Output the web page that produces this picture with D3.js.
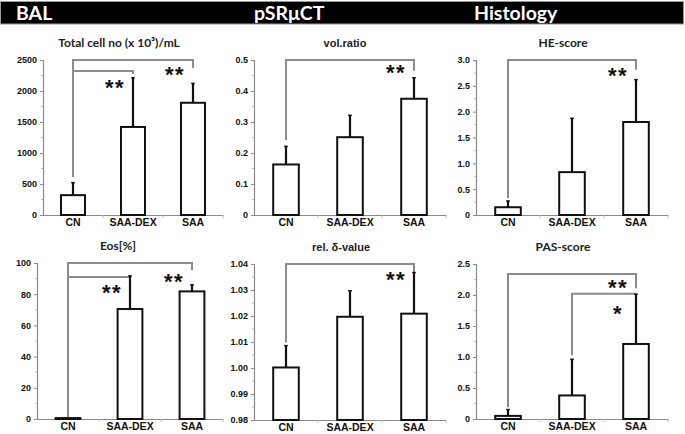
<!DOCTYPE html>
<html>
<head>
<meta charset="utf-8">
<script src="https://cdn.jsdelivr.net/npm/d3@7"></script>
<style>
  html, body { margin: 0; padding: 0; background: #fff; }
  svg { display: block; }
</style>
</head>
<body>
<svg id="chart" width="685" height="434"></svg>
<script>
// ---------------- DATA ----------------
const categories = ["CN", "SAA-DEX", "SAA"];
const sectionTitles = ["BAL", "pSRμCT", "Histology"];

const totalCellMean = [320, 1420, 1810];
const totalCellErr  = [210, 800, 320];
const totalCellTicks = [0, 500, 1000, 1500, 2000, 2500];
const totalCellTickLabels = ["0", "500", "1000", "1500", "2000", "2500"];

const volRatioMean = [0.163, 0.251, 0.375];
const volRatioErr  = [0.060, 0.072, 0.069];
const volRatioTicks = [0, 0.1, 0.2, 0.3, 0.4, 0.5];
const volRatioTickLabels = ["0", "0.1", "0.2", "0.3", "0.4", "0.5"];

const heMean = [0.15, 0.83, 1.80];
const heErr  = [0.13, 1.05, 0.83];
const heTicks = [0, 0.5, 1.0, 1.5, 2.0, 2.5, 3.0];
const heTickLabels = ["0", "0.5", "1.0", "1.5", "2.0", "2.5", "3.0"];

const eosMean = [0.6, 70.5, 81.8];
const eosErr  = [0, 21.5, 4.5];
const eosTicks = [0, 20, 40, 60, 80, 100];
const eosTickLabels = ["0", "20", "40", "60", "80", "100"];

const deltaMean = [1.0002, 1.0197, 1.0209];
const deltaErr  = [0.0086, 0.0102, 0.0160];
const deltaTicks = [0.98, 0.99, 1.00, 1.01, 1.02, 1.03, 1.04];
const deltaTickLabels = ["0.98", "0.99", "1.00", "1.01", "1.02", "1.03", "1.04"];

const pasMean = [0.05, 0.38, 1.21];
const pasErr  = [0.11, 0.59, 0.81];
const pasTicks = [0, 0.5, 1.0, 1.5, 2.0, 2.5];
const pasTickLabels = ["0", "0.5", "1.0", "1.5", "2.0", "2.5"];

// significance brackets: from/to category index, level, leg bottoms (data units)
const totalCellBrackets = [
  {from: 0, to: 2, level: 2500, fromDrop: 613, toDrop: 2371},
  {from: 0, to: 1, level: 2323, fromDrop: 2323, toDrop: 2274}
];
const totalCellStars = [{cat: 1, value: 2129, text: "**"}, {cat: 2, value: 2339, text: "**"}];

const volRatioBrackets = [{from: 0, to: 2, level: 0.5, fromDrop: 0.242, toDrop: 0.465}];
const volRatioStars = [{cat: 2, value: 0.474, text: "**"}];

const heBrackets = [{from: 0, to: 2, level: 3.0, fromDrop: 0.33, toDrop: 2.81}];
const heStars = [{cat: 2, value: 2.79, text: "**"}];

const eosBrackets = [
  {from: 0, to: 2, level: 100, fromDrop: 1.2, toDrop: 95.5},
  {from: 0, to: 1, level: 91, fromDrop: 91, toDrop: 89.5}
];
const eosStars = [{cat: 1, value: 84, text: "**"}, {cat: 2, value: 91, text: "**"}];

const deltaBrackets = [{from: 0, to: 2, level: 1.04, fromDrop: 1.0098, toDrop: 1.0362}];
const deltaStars = [{cat: 2, value: 1.0358, text: "**"}];

const pasBrackets = [
  {from: 0, to: 2, level: 2.34, fromDrop: 0.19, toDrop: 2.11},
  {from: 1, to: 2, level: 2.02, fromDrop: 1.03, toDrop: 2.02}
];
const pasStars = [{cat: 2, value: 2.19, text: "**"}, {cat: 2, value: 1.77, text: "*"}];

// ---------------- LAYOUT ----------------
const panels = [
  {title: "Total cell no (x 10³)/mL", titleX: 119, titleFont: "Lato", mean: totalCellMean, err: totalCellErr,
   ticks: totalCellTicks, labels: totalCellTickLabels, domain: [0, 2500],
   x0: 43, x1: 223, yTop: 60, yBot: 215, brackets: totalCellBrackets, stars: totalCellStars},
  {title: "vol.ratio", titleX: 345, titleFont: "Liberation Sans", mean: volRatioMean, err: volRatioErr,
   ticks: volRatioTicks, labels: volRatioTickLabels, domain: [0, 0.5],
   x0: 254, x1: 446, yTop: 60, yBot: 215, brackets: volRatioBrackets, stars: volRatioStars},
  {title: "HE-score", titleX: 563, titleFont: "Lato", mean: heMean, err: heErr,
   ticks: heTicks, labels: heTickLabels, domain: [0, 3.0],
   x0: 476, x1: 668, yTop: 60, yBot: 215, brackets: heBrackets, stars: heStars},
  {title: "Eos[%]", titleX: 118, titleFont: "Lato", mean: eosMean, err: eosErr,
   ticks: eosTicks, labels: eosTickLabels, domain: [0, 100],
   x0: 37, x1: 223, yTop: 263, yBot: 419, brackets: eosBrackets, stars: eosStars},
  {title: "rel. δ-value", titleX: 341, titleFont: "Liberation Sans", mean: deltaMean, err: deltaErr,
   ticks: deltaTicks, labels: deltaTickLabels, domain: [0.98, 1.04],
   x0: 254, x1: 446, yTop: 264, yBot: 420, brackets: deltaBrackets, stars: deltaStars},
  {title: "PAS-score", titleX: 563, titleFont: "Lato", mean: pasMean, err: pasErr,
   ticks: pasTicks, labels: pasTickLabels, domain: [0, 2.5],
   x0: 476, x1: 668, yTop: 264, yBot: 419, brackets: pasBrackets, stars: pasStars}
];

const svg = d3.select("#chart");
svg.append("rect").attr("width", 685).attr("height", 434).attr("fill", "#fff");

// header band
svg.append("rect").attr("x", 0.5).attr("y", 1.5).attr("width", 683).attr("height", 22.5)
  .attr("fill", "#000").attr("stroke", "#999").attr("stroke-width", 1);
const headerX = [16, 254, 474];
sectionTitles.forEach((t, i) => {
  svg.append("text").attr("x", headerX[i]).attr("y", 20)
    .attr("fill", "#fff").attr("font-family", "Lato, 'Open Sans', sans-serif")
    .attr("font-weight", "bold").attr("font-size", 19.5).text(t);
});

const gridGrey = "#8a8a8a";
const bracketGrey = "#8c8c8c";

panels.forEach(p => {
  const g = svg.append("g");
  const x = d3.scaleBand().domain(categories).range([p.x0, p.x1]).paddingInner(0).paddingOuter(0);
  const y = d3.scaleLinear().domain(p.domain).range([p.yBot, p.yTop]);
  const bw = x.bandwidth() * 0.4;
  const cx = i => x(categories[i]) + x.bandwidth() / 2;

  // title
  g.append("text").attr("x", p.titleX).attr("y", p.yTop - 13)
    .attr("text-anchor", "middle")
    .attr("font-family", p.titleFont + ", sans-serif")
    .attr("font-weight", "bold").attr("font-size", p.titleFont === "Lato" ? 12 : 11)
    .attr("fill", "#222").text(p.title);

  // y axis
  const yAxis = d3.axisLeft(y).tickValues(p.ticks)
    .tickFormat((d, i) => p.labels[i]).tickSize(3).tickPadding(3);
  const ya = g.append("g").attr("transform", `translate(${p.x0},0)`).call(yAxis);
  ya.select(".domain").attr("stroke", gridGrey).attr("stroke-width", 1.2);
  ya.selectAll(".tick line").attr("stroke", gridGrey);
  ya.selectAll(".tick text").attr("font-family", "'Liberation Sans', Arial, sans-serif")
    .attr("font-weight", "bold").attr("font-size", 9).attr("fill", "#111");
  // minor ticks
  const step = p.ticks[1] - p.ticks[0];
  const minor = p.ticks.slice(0, -1).map(t => t + step / 2);
  g.selectAll(null).data(minor).enter().append("line")
    .attr("x1", p.x0 - 2).attr("x2", p.x0)
    .attr("y1", d => y(d)).attr("y2", d => y(d))
    .attr("stroke", "#bbb").attr("stroke-width", 1);

  // x axis
  const xAxis = d3.axisBottom(x).tickSize(0).tickPadding(4);
  const xa = g.append("g").attr("transform", `translate(0,${p.yBot})`).call(xAxis);
  xa.select(".domain").attr("stroke", gridGrey).attr("stroke-width", 1.2);
  xa.selectAll(".tick text").attr("font-family", "'Liberation Sans', Arial, sans-serif")
    .attr("font-weight", "bold").attr("font-size", 10.5).attr("fill", "#111");
  // band boundary ticks
  const bounds = categories.map(c => x(c)).slice(1).concat([p.x1]);
  g.selectAll(null).data(bounds).enter().append("line")
    .attr("x1", d => d).attr("x2", d => d)
    .attr("y1", p.yBot).attr("y2", p.yBot + 3)
    .attr("stroke", "#bbb").attr("stroke-width", 1);

  // brackets (behind bars)
  p.brackets.forEach(b => {
    const xa1 = cx(b.from), xb1 = cx(b.to);
    const path = d3.path();
    path.moveTo(xa1, y(b.fromDrop));
    path.lineTo(xa1, y(b.level));
    path.lineTo(xb1, y(b.level));
    path.lineTo(xb1, y(b.toDrop));
    g.append("path").attr("d", path.toString()).attr("fill", "none")
      .attr("stroke", bracketGrey).attr("stroke-width", 2);
  });

  // error bars
  g.selectAll(null).data(p.mean).enter().append("line")
    .attr("x1", (d, i) => cx(i)).attr("x2", (d, i) => cx(i))
    .attr("y1", d => y(d)).attr("y2", (d, i) => y(d + p.err[i]))
    .attr("stroke", "#111").attr("stroke-width", 2.2);
  g.selectAll(null).data(p.mean).enter().append("line")
    .attr("x1", (d, i) => cx(i) - 1.8).attr("x2", (d, i) => cx(i) + 1.8)
    .attr("y1", (d, i) => y(d + p.err[i]) + 0.5).attr("y2", (d, i) => y(d + p.err[i]) + 0.5)
    .attr("stroke", "#111").attr("stroke-width", 1.5)
    .attr("display", (d, i) => p.err[i] > 0 ? null : "none");

  // bars
  g.selectAll(null).data(p.mean).enter().append("rect")
    .attr("x", (d, i) => cx(i) - bw / 2)
    .attr("y", d => y(d))
    .attr("width", bw)
    .attr("height", d => Math.max(0, p.yBot - y(d)))
    .attr("fill", "#fff").attr("stroke", "#111").attr("stroke-width", 2);

  // stars
  p.stars.forEach(s => {
    g.append("text").attr("x", cx(s.cat) - 18).attr("y", y(s.value) + 12)
      .attr("text-anchor", "middle")
      .attr("font-family", "'Liberation Sans', Arial, sans-serif")
      .attr("font-weight", "bold").attr("font-size", 22).attr("letter-spacing", 1.5)
      .attr("fill", "#111").text(s.text);
  });
});
</script>
</body>
</html>
